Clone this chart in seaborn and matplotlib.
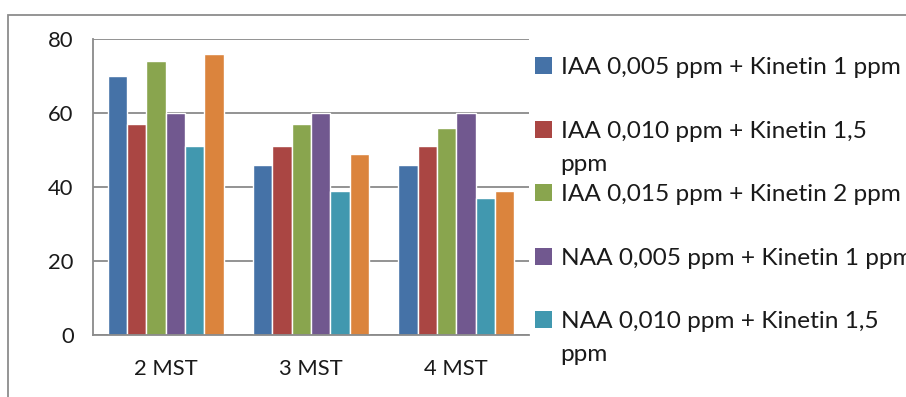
import textwrap
import matplotlib
matplotlib.use("Agg")
import matplotlib.pyplot as plt
import seaborn as sns
import pandas as pd
from matplotlib.patches import Patch, Rectangle

periods = ["2 MST", "3 MST", "4 MST"]
treatments = [
    "IAA 0,005 ppm + Kinetin 1 ppm",
    "IAA 0,010 ppm + Kinetin 1,5 ppm",
    "IAA 0,015 ppm + Kinetin 2 ppm",
    "NAA 0,005 ppm + Kinetin 1 ppm",
    "NAA 0,010 ppm + Kinetin 1,5 ppm",
    "NAA 0,015 ppm + Kinetin 2 ppm",
]
iaa_005 = [70, 46, 46]
iaa_010 = [57, 51, 51]
iaa_015 = [74, 57, 56]
naa_005 = [60, 60, 60]
naa_010 = [51, 39, 37]
naa_015 = [76, 49, 39]
colors = ["#4572A7", "#AA4643", "#89A54E", "#71588F", "#4198AF", "#DB843D"]

series = [iaa_005, iaa_010, iaa_015, naa_005, naa_010, naa_015]
rows = []
for name, vals in zip(treatments, series):
    for p, v in zip(periods, vals):
        rows.append({"Periode": p, "Perlakuan": name, "Nilai": v})
df = pd.DataFrame(rows)

sns.set_style("white")
plt.rcParams["font.family"] = ["Lato", "DejaVu Sans"]
grid_col = "#8a8a8a"
text_col = "#1a1a1a"
fs = 15.8
leg_fs = 17.6

W, H = 906, 397
fig = plt.figure(figsize=(W / 100, H / 100), dpi=100)
ax = fig.add_axes([93 / W, 62 / H, (529 - 93) / W, (335 - 39) / H])

sns.barplot(data=df, x="Periode", y="Nilai", hue="Perlakuan", order=periods,
            hue_order=treatments, palette=colors, saturation=1, width=0.8,
            errorbar=None, legend=False, ax=ax, zorder=2)

ax.set_ylim(0, 80)
ax.set_xlim(-0.5, 2.5)
ax.set_yticks([0, 20, 40, 60, 80])
ax.yaxis.grid(True, color=grid_col, lw=1.3, zorder=0)
ax.set_axisbelow(True)
ax.set_xlabel("")
ax.set_ylabel("")
for s in ["top", "right"]:
    ax.spines[s].set_visible(False)
for s in ["left", "bottom"]:
    ax.spines[s].set_color(grid_col)
    ax.spines[s].set_linewidth(1.3)

ax.set_xticks([-0.5, 0.5, 1.5, 2.5], minor=True)
ax.tick_params(axis="x", which="major", length=0, pad=17, labelsize=fs, labelcolor=text_col)
ax.tick_params(axis="x", which="minor", length=7, width=1.3, color=grid_col, direction="out")
ax.tick_params(axis="y", length=8, width=1.3, color=grid_col, pad=6, labelsize=fs, labelcolor=text_col)
ax.spines["bottom"].set_zorder(3)

# legend (Excel-style wrapping; the last entry does not fit and is dropped, as in the original)
n_shown = 5
wrapped = [textwrap.wrap(t, 29) for t in treatments[:n_shown]]
handles = [Patch(facecolor=c, edgecolor="none") for c in colors[:n_shown]]
leg = fig.legend(handles, [w[0] for w in wrapped], loc="upper left",
                 bbox_to_anchor=(523 / W, 1 - 45 / H), frameon=False,
                 fontsize=leg_fs, handlelength=0.68, handleheight=0.68,
                 handletextpad=0.36, labelspacing=1.74, borderpad=0,
                 labelcolor=text_col)

fig.canvas.draw()
inv = fig.transFigure.inverted()
for txt, lines in zip(leg.get_texts(), wrapped):
    if len(lines) > 1:
        bb = txt.get_window_extent()
        x, y = inv.transform((bb.x0, bb.y0 - 33))
        fig.text(x, y, " ".join(lines[1:]), fontsize=leg_fs, color=text_col, va="bottom")

# outer chart frame
fig.patches.append(Rectangle((8 / W, -0.2), 1.2, 1 - 15 / H + 0.2, transform=fig.transFigure,
                             fill=False, ec="#8c8c8c", lw=1.3))

fig.savefig("out.png", dpi=100)
